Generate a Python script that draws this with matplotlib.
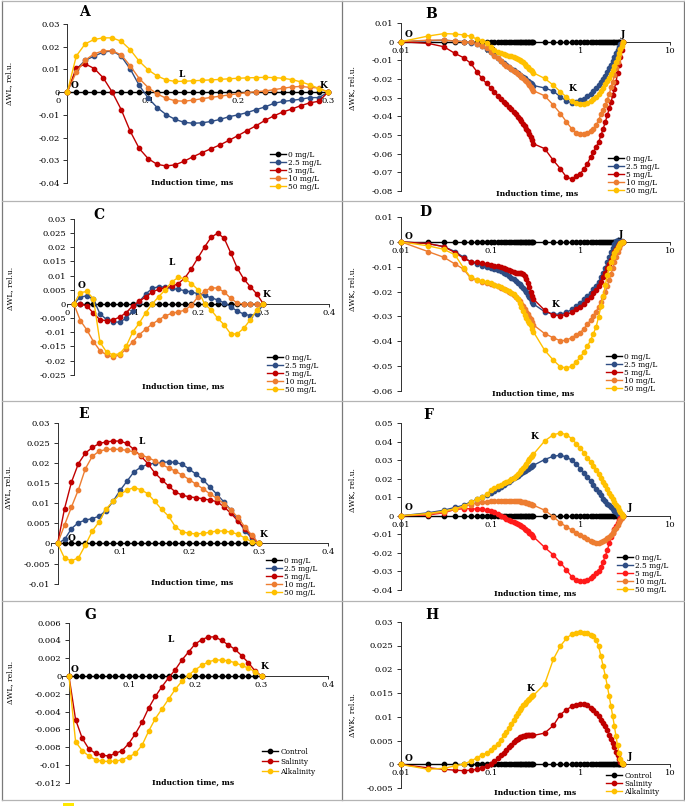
import matplotlib
matplotlib.use("Agg")
import matplotlib.pyplot as plt
from matplotlib.ticker import MultipleLocator, FixedLocator, FuncFormatter, NullLocator
from matplotlib.lines import Line2D
from matplotlib.patches import Rectangle

# ---------------- data ----------------
LIN_T = [0.01, 0.02, 0.03, 0.04, 0.05, 0.06, 0.07, 0.08, 0.09, 0.10,
         0.11, 0.12, 0.13, 0.14, 0.15, 0.16, 0.17, 0.18, 0.19, 0.20,
         0.21, 0.22, 0.23, 0.24, 0.25, 0.26, 0.27, 0.28, 0.29, 0.30]
LOG_T = LIN_T + [0.4, 0.5, 0.6, 0.7, 0.8, 0.9, 1.0, 1.1, 1.2, 1.3, 1.4, 1.5, 1.6,
                 1.7, 1.8, 1.9, 2.0, 2.1, 2.2, 2.3, 2.4, 2.5, 2.6, 2.7, 2.8, 2.9, 3.0]

CONC_LABELS = ["0 mg/L", "2.5 mg/L", "5 mg/L", "10 mg/L", "50 mg/L"]
STRESS_LABELS = ["Control", "Salinity", "Alkalinity"]

ZERO_LIN = [0.0] * len(LIN_T)
ZERO_LOG = [0.0] * len(LOG_T)

# Panel A  (dWL)
A_25 = [0, 0.0101, 0.0140, 0.0159, 0.0176, 0.0182, 0.0158, 0.0102, 0.0030, -0.0026,
        -0.0068, -0.0099, -0.0120, -0.0133, -0.0137, -0.0135, -0.0129, -0.0120, -0.0108, -0.0100,
        -0.0090, -0.0077, -0.0065, -0.0049, -0.0041, -0.0036, -0.0031, -0.0024, -0.0024, 0]
A_5 = [0, 0.0106, 0.0124, 0.0104, 0.0063, 0.0000, -0.0077, -0.0172, -0.0248, -0.0293,
       -0.0318, -0.0325, -0.0320, -0.0304, -0.0284, -0.0266, -0.0249, -0.0232, -0.0212, -0.0191,
       -0.0169, -0.0148, -0.0124, -0.0104, -0.0087, -0.0074, -0.0059, -0.0047, -0.0040, 0]
A_10 = [0, 0.0088, 0.0141, 0.0169, 0.0182, 0.0182, 0.0164, 0.0116, 0.0060, 0.0020,
        -0.0008, -0.0027, -0.0038, -0.0040, -0.0035, -0.0029, -0.0023, -0.0018, -0.0012, -0.0007,
        -0.0002, 0.0002, 0.0005, 0.0011, 0.0017, 0.0023, 0.0025, 0.0021, 0.0018, 0]
A_50 = [0, 0.0159, 0.0213, 0.0232, 0.0239, 0.0239, 0.0224, 0.0187, 0.0136, 0.0098,
        0.0071, 0.0054, 0.0047, 0.0048, 0.0050, 0.0052, 0.0054, 0.0056, 0.0059, 0.0061,
        0.0063, 0.0064, 0.0065, 0.0064, 0.0061, 0.0055, 0.0045, 0.0032, 0.0016, 0]

# Panel B  (dWK)
B_25 = [0, 0.0005, 0.0008, 0.0004, 0, -0.0005, -0.0012, -0.0024, -0.0038, -0.0055,
        -0.0073, -0.0088, -0.0102, -0.0114, -0.0125, -0.0135, -0.0144, -0.0153, -0.0161, -0.0169,
        -0.0176, -0.0183, -0.0190, -0.0197, -0.0204, -0.0210, -0.0217, -0.0223, -0.0229, -0.0235,
        -0.0248, -0.0265, -0.0296, -0.0317, -0.0328, -0.0323, -0.0314, -0.0305, -0.0290, -0.0278,
        -0.0263, -0.0250, -0.0233, -0.0217, -0.0200, -0.0183, -0.0165, -0.0143, -0.0125, -0.0104,
        -0.0084, -0.0063, -0.0045, -0.0027, -0.0014, -0.0005, 0]
B_5 = [0, -0.0009, -0.0027, -0.0063, -0.0086, -0.0116, -0.0160, -0.0197, -0.0224, -0.0246,
       -0.0269, -0.0290, -0.0308, -0.0323, -0.0335, -0.0350, -0.0362, -0.0376, -0.0389, -0.0403,
       -0.0416, -0.0427, -0.0439, -0.0452, -0.0466, -0.0478, -0.0493, -0.0510, -0.0529, -0.0547,
       -0.0573, -0.0636, -0.0681, -0.0726, -0.0735, -0.0722, -0.0708, -0.0681, -0.0654, -0.0618,
       -0.0591, -0.0565, -0.0538, -0.0502, -0.0466, -0.0430, -0.0394, -0.0358, -0.0323, -0.0287,
       -0.0251, -0.0215, -0.0170, -0.0125, -0.0084, -0.0045, 0]
B_10 = [0, 0.0008, 0.0008, 0.0003, 0, -0.0004, -0.0010, -0.0022, -0.0035, -0.0055,
        -0.0075, -0.0090, -0.0105, -0.0118, -0.0128, -0.0138, -0.0147, -0.0156, -0.0164, -0.0172,
        -0.0180, -0.0188, -0.0196, -0.0204, -0.0213, -0.0222, -0.0232, -0.0243, -0.0253, -0.0263,
        -0.0290, -0.0340, -0.0385, -0.0430, -0.0466, -0.0487, -0.0496, -0.0496, -0.0490, -0.0480,
        -0.0466, -0.0448, -0.0420, -0.0390, -0.0367, -0.0340, -0.0310, -0.0280, -0.0245, -0.0215,
        -0.0180, -0.0143, -0.0108, -0.0072, -0.0040, -0.0013, 0]
B_50 = [0, 0.0030, 0.0043, 0.0041, 0.0036, 0.0029, 0.0014, 0.0005, -0.0005, -0.0027,
        -0.0045, -0.0054, -0.0059, -0.0065, -0.0070, -0.0075, -0.0079, -0.0082, -0.0088, -0.0093,
        -0.0099, -0.0104, -0.0111, -0.0120, -0.0129, -0.0138, -0.0145, -0.0152, -0.0159, -0.0167,
        -0.0197, -0.0233, -0.0269, -0.0296, -0.0319, -0.0328, -0.0332, -0.0332, -0.0328, -0.0319,
        -0.0308, -0.0296, -0.0281, -0.0265, -0.0247, -0.0229, -0.0211, -0.0192, -0.0172, -0.0152,
        -0.0131, -0.0109, -0.0086, -0.0063, -0.0041, -0.0022, 0]

# Panel C  (dWL)
C_25 = [0, 0.0024, 0.0029, 0.0016, -0.0035, -0.0055, -0.0064, -0.0064, -0.0051, -0.0024,
        0.0008, 0.0035, 0.0055, 0.0061, 0.0059, 0.0055, 0.0051, 0.0047, 0.0042, 0.0036,
        0.0030, 0.0022, 0.0014, 0.0004, -0.0010, -0.0025, -0.0036, -0.0041, -0.0035, 0]
C_5 = [0, 0, -0.0007, -0.0033, -0.0056, -0.0059, -0.0056, -0.0047, -0.0031, -0.0007,
       0.0009, 0.0025, 0.0042, 0.0052, 0.0057, 0.0062, 0.0072, 0.0092, 0.0125, 0.0163,
       0.0201, 0.0235, 0.0250, 0.0232, 0.0181, 0.0127, 0.0088, 0.0061, 0.0035, 0]
C_10 = [0, -0.0059, -0.0092, -0.0133, -0.0165, -0.0180, -0.0188, -0.0180, -0.0160, -0.0134,
        -0.0109, -0.0089, -0.0071, -0.0056, -0.0042, -0.0033, -0.0028, -0.0022, -0.0004, 0.0025,
        0.0045, 0.0057, 0.0056, 0.0042, 0.0020, 0.0003, 0, 0, 0, 0]
C_50 = [0, 0.0040, 0.0044, 0.0018, -0.0135, -0.0170, -0.0180, -0.0176, -0.0150, -0.0100,
        -0.0068, -0.0031, 0, 0.0026, 0.0050, 0.0078, 0.0094, 0.0089, 0.0072, 0.0050,
        0, -0.0021, -0.0050, -0.0074, -0.0106, -0.0106, -0.0086, -0.0056, -0.0021, 0]

# Panel D  (dWK)
D_25 = [0, -0.0007, -0.0019, -0.0039, -0.0062, -0.0080, -0.0090, -0.0097, -0.0100, -0.0104,
        -0.0108, -0.0112, -0.0117, -0.0124, -0.0131, -0.0137, -0.0144, -0.0151, -0.0157, -0.0164,
        -0.0171, -0.0178, -0.0186, -0.0194, -0.0203, -0.0213, -0.0222, -0.0231, -0.0241, -0.0250,
        -0.0281, -0.0291, -0.0291, -0.0284, -0.0272, -0.0258, -0.0245, -0.0231, -0.0218, -0.0205,
        -0.0191, -0.0176, -0.0160, -0.0143, -0.0124, -0.0104, -0.0083, -0.0062, -0.0042, -0.0023,
        -0.0008, 0.0003, 0.0007, 0.0007, 0.0005, 0.0003, 0]
D_5 = [0, -0.0007, -0.0019, -0.0043, -0.0066, -0.0080, -0.0083, -0.0086, -0.0089, -0.0093,
       -0.0096, -0.0098, -0.0102, -0.0106, -0.0110, -0.0114, -0.0118, -0.0121, -0.0124, -0.0125,
       -0.0125, -0.0127, -0.0129, -0.0137, -0.0151, -0.0167, -0.0183, -0.0201, -0.0217, -0.0230,
       -0.0275, -0.0295, -0.0297, -0.0292, -0.0284, -0.0272, -0.0261, -0.0248, -0.0234, -0.0221,
       -0.0207, -0.0194, -0.0178, -0.0160, -0.0143, -0.0124, -0.0106, -0.0089, -0.0073, -0.0057,
       -0.0042, -0.0028, -0.0016, -0.0008, -0.0003, 0, 0]
D_10 = [0, -0.0039, -0.0062, -0.0089, -0.0110, -0.0147, -0.0153, -0.0160, -0.0167, -0.0171,
        -0.0175, -0.0179, -0.0184, -0.0190, -0.0195, -0.0201, -0.0207, -0.0214, -0.0221, -0.0229,
        -0.0238, -0.0249, -0.0260, -0.0271, -0.0281, -0.0291, -0.0301, -0.0312, -0.0323, -0.0334,
        -0.0369, -0.0386, -0.0398, -0.0396, -0.0385, -0.0376, -0.0365, -0.0349, -0.0331, -0.0315,
        -0.0297, -0.0281, -0.0261, -0.0241, -0.0221, -0.0201, -0.0178, -0.0153, -0.0129, -0.0106,
        -0.0083, -0.0062, -0.0042, -0.0026, -0.0013, -0.0005, 0]
D_50 = [0, -0.0016, -0.0030, -0.0052, -0.0106, -0.0143, -0.0153, -0.0157, -0.0162, -0.0167,
        -0.0172, -0.0178, -0.0183, -0.0188, -0.0194, -0.0199, -0.0205, -0.0211, -0.0221, -0.0231,
        -0.0245, -0.0261, -0.0279, -0.0295, -0.0308, -0.0318, -0.0326, -0.0335, -0.0349, -0.0362,
        -0.0436, -0.0476, -0.0503, -0.0507, -0.0501, -0.0483, -0.0463, -0.0443, -0.0420, -0.0396,
        -0.0369, -0.0342, -0.0301, -0.0258, -0.0218, -0.0174, -0.0133, -0.0106, -0.0083, -0.0062,
        -0.0046, -0.0032, -0.0022, -0.0012, -0.0005, -0.0001, 0]

# Panel E  (dWL)
E_25 = [0, 0.0010, 0.0037, 0.0052, 0.0058, 0.0062, 0.0068, 0.0082, 0.0105, 0.0132,
        0.0155, 0.0178, 0.0190, 0.0197, 0.0200, 0.0202, 0.0203, 0.0202, 0.0197, 0.0185,
        0.0172, 0.0158, 0.0140, 0.0122, 0.0103, 0.0083, 0.0058, 0.0032, 0.0013, 0]
E_5 = [0, 0.0087, 0.0153, 0.0199, 0.0225, 0.0239, 0.0249, 0.0253, 0.0255, 0.0255,
       0.0249, 0.0234, 0.0218, 0.0199, 0.0176, 0.0159, 0.0143, 0.0128, 0.0120, 0.0116,
       0.0114, 0.0111, 0.0108, 0.0104, 0.0091, 0.0075, 0.0056, 0.0037, 0.0018, 0]
E_10 = [0, 0.0046, 0.0091, 0.0134, 0.0186, 0.0217, 0.0230, 0.0234, 0.0235, 0.0234,
        0.0232, 0.0228, 0.0221, 0.0214, 0.0206, 0.0197, 0.0188, 0.0180, 0.0170, 0.0159,
        0.0147, 0.0136, 0.0123, 0.0112, 0.0099, 0.0083, 0.0065, 0.0041, 0.0021, 0]
E_50 = [0, -0.0037, -0.0043, -0.0036, -0.0004, 0.0031, 0.0054, 0.0086, 0.0105, 0.0122,
        0.0133, 0.0139, 0.0134, 0.0124, 0.0105, 0.0085, 0.0068, 0.0041, 0.0029, 0.0025,
        0.0024, 0.0025, 0.0028, 0.0031, 0.0031, 0.0028, 0.0023, 0.0014, 0.0004, 0]

# Panel F  (dWK)
F_25 = [0, 0.0016, 0.0030, 0.0045, 0.0057, 0.0075, 0.0088, 0.0099, 0.0111, 0.0124,
        0.0134, 0.0145, 0.0156, 0.0165, 0.0174, 0.0183, 0.0192, 0.0201, 0.0210, 0.0217,
        0.0224, 0.0231, 0.0237, 0.0242, 0.0247, 0.0253, 0.0258, 0.0263, 0.0269, 0.0272,
        0.0303, 0.0321, 0.0326, 0.0317, 0.0299, 0.0278, 0.0254, 0.0231, 0.0210, 0.0188,
        0.0165, 0.0147, 0.0129, 0.0111, 0.0093, 0.0079, 0.0066, 0.0056, 0.0045, 0.0036,
        0.0027, 0.0018, 0.0011, 0.0005, 0.0002, 0, 0]
F_5 = [0, 0.0004, 0.0016, 0.0034, 0.0038, 0.0038, 0.0036, 0.0034, 0.0030, 0.0025,
       0.0018, 0.0009, 0, -0.0009, -0.0016, -0.0023, -0.0030, -0.0036, -0.0041, -0.0047,
       -0.0052, -0.0057, -0.0063, -0.0070, -0.0077, -0.0084, -0.0091, -0.0099, -0.0106, -0.0113,
       -0.0170, -0.0211, -0.0253, -0.0292, -0.0328, -0.0346, -0.0351, -0.0353, -0.0348, -0.0337,
       -0.0324, -0.0310, -0.0296, -0.0274, -0.0247, -0.0217, -0.0185, -0.0149, -0.0116, -0.0091,
       -0.0073, -0.0056, -0.0038, -0.0023, -0.0013, -0.0005, 0]
F_10 = [0, 0.0008, 0.0020, 0.0035, 0.0050, 0.0060, 0.0068, 0.0073, 0.0076, 0.0078,
        0.0079, 0.0080, 0.0080, 0.0080, 0.0080, 0.0080, 0.0080, 0.0079, 0.0079, 0.0078,
        0.0077, 0.0076, 0.0075, 0.0073, 0.0071, 0.0069, 0.0066, 0.0063, 0.0060, 0.0057,
        0.0030, -0.0005, -0.0038, -0.0059, -0.0077, -0.0091, -0.0104, -0.0116, -0.0127, -0.0136,
        -0.0142, -0.0145, -0.0145, -0.0143, -0.0138, -0.0131, -0.0122, -0.0113, -0.0102, -0.0091,
        -0.0079, -0.0065, -0.0050, -0.0036, -0.0023, -0.0011, 0]
F_50 = [0, 0.0012, 0.0025, 0.0038, 0.0052, 0.0072, 0.0088, 0.0102, 0.0115, 0.0138,
        0.0149, 0.0160, 0.0168, 0.0176, 0.0183, 0.0190, 0.0197, 0.0206, 0.0215, 0.0224,
        0.0235, 0.0246, 0.0256, 0.0269, 0.0281, 0.0294, 0.0305, 0.0315, 0.0324, 0.0332,
        0.0403, 0.0437, 0.0446, 0.0437, 0.0416, 0.0389, 0.0366, 0.0339, 0.0314, 0.0289,
        0.0267, 0.0246, 0.0224, 0.0204, 0.0183, 0.0165, 0.0145, 0.0125, 0.0108, 0.0091,
        0.0075, 0.0059, 0.0045, 0.0030, 0.0018, 0.0009, 0]

# Panel G  (dWL, stress types)
G_SAL = [0, -0.0049, -0.0070, -0.0082, -0.0087, -0.0089, -0.0090, -0.0087, -0.0084, -0.0076,
         -0.0065, -0.0052, -0.0036, -0.0023, -0.0012, -0.0002, 0.0007, 0.0018, 0.0027, 0.0036,
         0.0041, 0.0044, 0.0044, 0.0040, 0.0035, 0.0030, 0.0023, 0.0015, 0.0006, 0]
G_ALK = [0, -0.0074, -0.0084, -0.0090, -0.0094, -0.0096, -0.0096, -0.0096, -0.0094, -0.0091,
         -0.0087, -0.0078, -0.0062, -0.0048, -0.0037, -0.0026, -0.0015, -0.0006, 0.0001, 0.0007,
         0.0012, 0.0016, 0.0018, 0.0018, 0.0017, 0.0015, 0.0012, 0.0009, 0.0005, 0]

# Panel H  (dWK, stress types)
H_SAL = [0, -0.0007, -0.0010, -0.0012, -0.0013, -0.0012, -0.0010, -0.0007, -0.0003, 0.0001,
         0.0007, 0.0013, 0.0019, 0.0024, 0.0030, 0.0036, 0.0041, 0.0047, 0.0051, 0.0054,
         0.0057, 0.0058, 0.0059, 0.0060, 0.0061, 0.0061, 0.0061, 0.0061, 0.0061, 0.0061,
         0.0066, 0.0082, 0.0105, 0.0115, 0.0122, 0.0126, 0.0128, 0.0127, 0.0124, 0.0119,
         0.0114, 0.0108, 0.0101, 0.0094, 0.0087, 0.0080, 0.0072, 0.0063, 0.0054, 0.0045,
         0.0036, 0.0027, 0.0019, 0.0012, 0.0006, 0.0003, 0]
H_ALK = [0, -0.0010, -0.0008, -0.0003, 0.0001, 0.0007, 0.0014, 0.0020, 0.0024, 0.0030,
         0.0036, 0.0044, 0.0052, 0.0061, 0.0069, 0.0077, 0.0086, 0.0094, 0.0101, 0.0108,
         0.0114, 0.0119, 0.0124, 0.0128, 0.0132, 0.0135, 0.0138, 0.0141, 0.0143, 0.0145,
         0.0169, 0.0221, 0.0249, 0.0265, 0.0274, 0.0277, 0.0278, 0.0277, 0.0276, 0.0273,
         0.0269, 0.0262, 0.0248, 0.0227, 0.0206, 0.0186, 0.0165, 0.0143, 0.0122, 0.0101,
         0.0080, 0.0059, 0.0040, 0.0024, 0.0012, 0.0003, 0]

# ---------------- style ----------------
BLACK, BLUE, DRED, ORANGE, GOLD, RED = "#000000", "#2E4D84", "#C00000", "#ED7D31", "#FFC000", "#FF1A1A"
AXC = "#303030"
W, H = 685, 807

plt.rcParams["font.family"] = ["DejaVu Serif"]
fig = plt.figure(figsize=(W / 100, H / 100), dpi=100)
fig.patch.set_facecolor("white")


def fx(px):
    return px / W


def fy(py):
    return 1 - py / H


def yfmt(v, pos):
    r = round(v, 6)
    if abs(r) < 1e-12:
        return "0"
    return f"{r:g}"


PANELS = [
    dict(letter="A", letter_xy=(84, 12), rect=(58.3, 328, 24, 183), log=False, xlim=(0, 0.3),
         xt=[0, 0.1, 0.2, 0.3], ylim=(-0.04, 0.03), ystep=0.01, t=LIN_T,
         series=[(ZERO_LIN, BLACK), (A_25, BLUE), (A_5, DRED), (A_10, ORANGE), (A_50, GOLD)],
         labels=CONC_LABELS, ylab="ΔWL, rel.u.", ylab_xy=(9, 83), xlab_xy=(192, 183),
         tags=[("O", 0.0185, 0.0031), ("L", 0.137, 0.0079), ("K", 0.295, 0.0031)],
         leg=(270, 151, 8.0)),
    dict(letter="B", letter_xy=(431, 14), rect=(401, 670, 23, 191), log=True, xlim=(0.01, 10),
         xt=[0.01, 0.1, 1, 10], ylim=(-0.08, 0.01), ystep=0.01, t=LOG_T,
         series=[(ZERO_LOG, BLACK), (B_25, BLUE), (B_5, DRED), (B_10, ORANGE), (B_50, GOLD)],
         labels=CONC_LABELS, ylab="ΔWK, rel.u.", ylab_xy=(352, 88), xlab_xy=(537, 194),
         tags=[("O", 0.0121, 0.0036), ("J", 2.97, 0.0036), ("K", 0.81, -0.025)],
         leg=(608, 155, 7.2)),
    dict(letter="C", letter_xy=(99, 215), rect=(67.3, 328.7, 219, 374.7), log=False, xlim=(0, 0.4),
         xt=[0, 0.1, 0.2, 0.3, 0.4], ylim=(-0.025, 0.03), ystep=0.005, t=LIN_T,
         series=[(ZERO_LIN, BLACK), (C_25, BLUE), (C_5, DRED), (C_10, ORANGE), (C_50, GOLD)],
         labels=CONC_LABELS, ylab="ΔWL, rel.u.", ylab_xy=(10, 288), xlab_xy=(183, 387),
         tags=[("O", 0.022, 0.0064), ("L", 0.16, 0.0146), ("K", 0.305, 0.0032)],
         leg=(267, 354, 7.3)),
    dict(letter="D", letter_xy=(425, 212), rect=(401, 670, 217, 391), log=True, xlim=(0.01, 10),
         xt=[0.01, 0.1, 1, 10], ylim=(-0.06, 0.01), ystep=0.01, t=LOG_T,
         series=[(ZERO_LOG, BLACK), (D_25, BLUE), (D_5, DRED), (D_10, ORANGE), (D_50, GOLD)],
         labels=CONC_LABELS, ylab="ΔWK, rel.u.", ylab_xy=(352, 289), xlab_xy=(533, 394),
         tags=[("O", 0.0121, 0.0022), ("J", 2.84, 0.003), ("K", 0.535, -0.025)],
         leg=(606, 353, 7.5)),
    dict(letter="E", letter_xy=(84, 414), rect=(50.7, 328, 423, 583.6), log=False, xlim=(0, 0.4),
         xt=[0, 0.1, 0.2, 0.3, 0.4], ylim=(-0.01, 0.03), ystep=0.005, t=LIN_T,
         series=[(ZERO_LIN, BLACK), (E_25, BLUE), (E_5, DRED), (E_10, ORANGE), (E_50, GOLD)],
         labels=CONC_LABELS, ylab="ΔWL, rel.u.", ylab_xy=(8, 487), xlab_xy=(192, 583),
         tags=[("O", 0.0303, 0.0012), ("L", 0.131, 0.0255), ("K", 0.307, 0.0022)],
         leg=(266, 557, 7.0)),
    dict(letter="F", letter_xy=(428, 415), rect=(401, 670, 423, 590), log=True, xlim=(0.01, 10),
         xt=[0.01, 0.1, 1, 10], ylim=(-0.04, 0.05), ystep=0.01, t=LOG_T,
         series=[(ZERO_LOG, BLACK), (F_25, BLUE), (F_5, RED), (F_10, ORANGE), (F_50, GOLD)],
         labels=CONC_LABELS, ylab="ΔWK, rel.u.", ylab_xy=(352, 490), xlab_xy=(535, 594),
         tags=[("O", 0.0121, 0.0045), ("K", 0.312, 0.0425), ("J", 3.58, 0.0045)],
         leg=(617, 554, 7.5)),
    dict(letter="G", letter_xy=(90, 615), rect=(62.3, 328, 622.7, 782.7), log=False, xlim=(0, 0.4),
         xt=[0, 0.1, 0.2, 0.3, 0.4], ylim=(-0.012, 0.006), ystep=0.002, t=LIN_T,
         series=[(ZERO_LIN, BLACK), (G_SAL, DRED), (G_ALK, GOLD)],
         labels=STRESS_LABELS, ylab="ΔWL, rel.u.", ylab_xy=(10, 682), xlab_xy=(193, 783),
         tags=[("O", 0.019, 0.0007), ("L", 0.164, 0.0041), ("K", 0.305, 0.0011)],
         leg=(262, 748, 10.5)),
    dict(letter="H", letter_xy=(432, 615), rect=(401, 670, 621.7, 788.3), log=True, xlim=(0.01, 10),
         xt=[0.01, 0.1, 1, 10], ylim=(-0.005, 0.03), ystep=0.005, t=LOG_T,
         series=[(ZERO_LOG, BLACK), (H_SAL, DRED), (H_ALK, GOLD)],
         labels=STRESS_LABELS, ylab="ΔWK, rel.u.", ylab_xy=(352, 715), xlab_xy=(535, 793),
         tags=[("O", 0.0121, 0.0012), ("K", 0.279, 0.016), ("J", 3.58, 0.0016)],
         leg=(606, 772, 8.0)),
]

TICK_FS = 6
LEG_FS = 5.3
for p in PANELS:
    x0, x1, yt, yb = p["rect"]
    ax = fig.add_axes([fx(x0), fy(yb), (x1 - x0) / W, (yb - yt) / H])
    ax.patch.set_visible(False)
    if p["log"]:
        ax.set_xscale("log")
    ax.set_xlim(*p["xlim"])
    ax.set_ylim(*p["ylim"])
    handles = []
    for (vals, col), lab in zip(p["series"], p["labels"]):
        ln, = ax.plot(p["t"], vals, color=col, lw=1.0, marker="o", ms=3.1,
                      mec=col, mfc=col, label=lab, zorder=3, clip_on=False)
        handles.append(ln)
    for s in ("top", "right"):
        ax.spines[s].set_visible(False)
    ax.spines["bottom"].set_position(("data", 0))
    ax.spines["left"].set_position(("data", 0.01))
    for s in ("bottom", "left"):
        ax.spines[s].set_color(AXC)
        ax.spines[s].set_linewidth(0.7)
    ax.xaxis.set_major_locator(FixedLocator(p["xt"]))
    ax.xaxis.set_minor_locator(NullLocator())
    ax.set_xticklabels([f"{v:g}" for v in p["xt"]])
    ax.yaxis.set_major_locator(MultipleLocator(p["ystep"]))
    ax.yaxis.set_minor_locator(NullLocator())
    ax.yaxis.set_major_formatter(FuncFormatter(yfmt))
    ax.tick_params(axis="y", direction="out", length=3, width=0.7, color=AXC,
                   labelsize=TICK_FS, pad=2.5)
    ax.tick_params(axis="x", direction="out", length=2, width=0.7, color=AXC,
                   labelsize=TICK_FS, pad=1.5)
    for txt, tx, ty in p["tags"]:
        ax.text(tx, ty, txt, fontsize=6.5, fontweight="bold", ha="center", va="center", zorder=5)
    lx, ly, pitch = p["leg"]
    fs_px = LEG_FS * 100 / 72
    ls = max(0.0, (pitch - 1.17 * fs_px) / fs_px)
    ax.legend(handles=handles, loc="upper left", bbox_to_anchor=(fx(lx), fy(ly)),
              bbox_transform=fig.transFigure, frameon=False, fontsize=LEG_FS,
              handlelength=2.2, handletextpad=0.3, labelspacing=ls, borderpad=0,
              borderaxespad=0, numpoints=1)
    fig.text(fx(p["letter_xy"][0]), fy(p["letter_xy"][1]), p["letter"], fontsize=10,
             fontweight="bold", ha="center", va="center")
    fig.text(fx(p["xlab_xy"][0]), fy(p["xlab_xy"][1]), "Induction time, ms", fontsize=5.5,
             fontweight="bold", ha="center", va="center")
    fig.text(fx(p["ylab_xy"][0]), fy(p["ylab_xy"][1]), p["ylab"], fontsize=5.5,
             rotation=90, ha="center", va="center")

# panel frames
FRAME_V = "#7A7A7A"
FRAME_H = "#B4B4B4"
for xv in (2, 342, 684):
    fig.add_artist(Line2D([fx(xv), fx(xv)], [fy(1), fy(800)], transform=fig.transFigure,
                          color=FRAME_V, lw=0.9))
for yh in (1, 201, 401, 601, 800):
    fig.add_artist(Line2D([fx(2), fx(684)], [fy(yh), fy(yh)], transform=fig.transFigure,
                          color=FRAME_H, lw=0.9))
fig.add_artist(Rectangle((fx(63), fy(806)), 11 / W, 3 / H, transform=fig.transFigure,
                         color="#FFE800", lw=0))

fig.savefig("out.png", dpi=100, facecolor="white")
